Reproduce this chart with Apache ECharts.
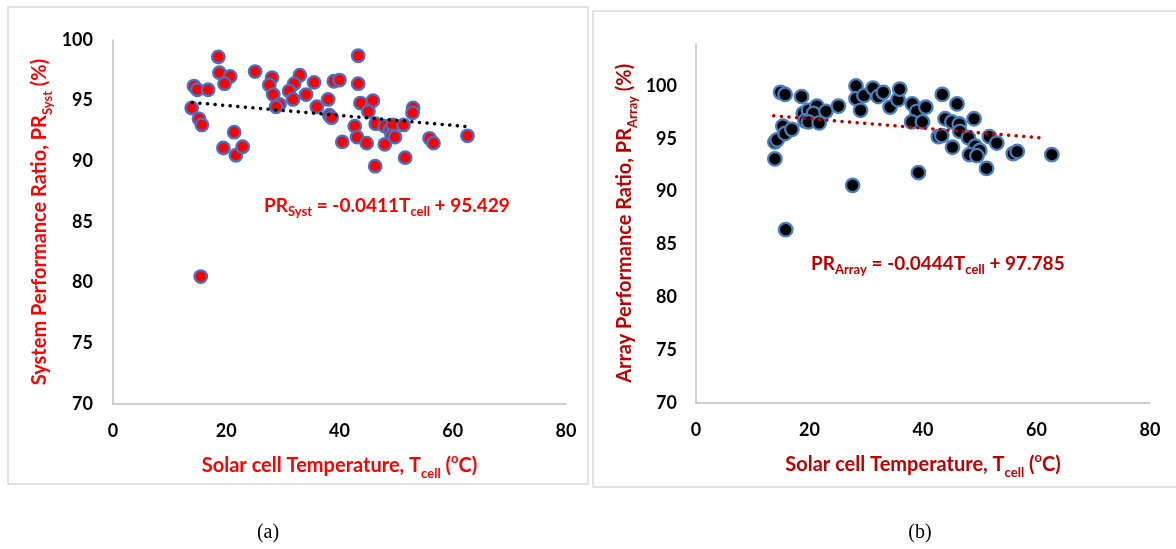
<!DOCTYPE html>
<html>
<head>
<meta charset="utf-8">
<script src="https://cdn.jsdelivr.net/npm/echarts@6/dist/echarts.min.js"></script>
<style>
html, body { margin: 0; padding: 0; background: #fff; }
#main { width: 1176px; height: 549px; }
</style>
</head>
<body>
<div id="main"></div>
<script>
var myChart = echarts.init(document.getElementById('main'));

// (a) system performance ratio vs cell temperature
var sysTemp = [18.6, 43.3, 18.8, 20.7, 19.7, 14.3, 14.9, 16.8, 25.1, 28.1,
    27.6, 28.3, 29.4, 28.8, 33.0, 32.0, 31.1, 31.8, 34.1, 35.5,
    36.0, 38.0, 38.2, 38.6, 39.0, 40.0, 43.3, 43.7, 45.9, 45.1,
    40.5, 42.7, 43.1, 44.8, 46.3, 46.4, 48.0, 48.9, 49.4, 51.3,
    49.2, 49.8, 48.0, 51.6, 53.0, 52.9, 55.9, 56.6, 62.6, 13.9,
    15.2, 15.7, 21.4, 19.5, 21.7, 22.9, 15.5];
var sysPR = [98.6, 98.7, 97.3, 97.0, 96.4, 96.2, 95.9, 95.9, 97.4, 96.9,
    96.3, 95.5, 94.7, 94.5, 97.1, 96.4, 95.8, 95.1, 95.5, 96.5,
    94.5, 95.1, 93.8, 93.6, 96.6, 96.7, 96.4, 94.8, 95.0, 94.1,
    91.6, 92.9, 92.0, 91.5, 89.6, 93.1, 92.9, 92.6, 93.0, 93.0,
    92.1, 92.0, 91.4, 90.3, 94.4, 94.0, 91.9, 91.5, 92.1, 94.4,
    93.5, 93.0, 92.4, 91.1, 90.5, 91.2, 80.5];
var sysTrendT = [14.0, 62.8];
var sysTrendPR = [94.85, 92.85];

// (b) array performance ratio vs cell temperature
var arrTemp = [14.9, 15.7, 18.6, 28.2, 28.2, 29.6, 29.0, 31.2, 32.1, 33.0,
    34.2, 35.6, 35.9, 38.1, 38.9, 40.5, 38.0, 39.9, 43.4, 46.0,
    43.9, 45.1, 46.4, 46.5, 49.0, 42.7, 43.3, 45.2, 48.0, 49.2,
    50.0, 48.2, 49.5, 51.2, 51.7, 53.0, 55.9, 56.6, 62.7, 39.2,
    27.6, 13.9, 14.3, 13.9, 15.3, 15.7, 16.9, 18.9, 19.8, 21.3,
    20.7, 22.9, 19.2, 19.8, 21.7, 25.1, 15.8];
var arrPR = [99.4, 99.2, 99.0, 100.0, 98.8, 99.1, 97.7, 99.8, 99.0, 99.4,
    98.0, 98.7, 99.7, 98.3, 97.6, 98.0, 96.6, 96.6, 99.2, 98.3,
    96.9, 96.6, 96.4, 95.7, 96.9, 95.2, 95.3, 94.2, 95.1, 94.3,
    93.9, 93.5, 93.4, 92.2, 95.2, 94.6, 93.6, 93.8, 93.5, 91.8,
    90.6, 94.7, 94.9, 93.1, 96.2, 95.5, 95.9, 97.4, 97.7, 98.1,
    97.4, 97.6, 96.7, 96.6, 96.5, 98.1, 86.4];
var arrTrendT = [13.7, 61.4];
var arrTrendPR = [97.18, 95.06];

var xTicks = {min: 0, max: 80, interval: 20};

function zip(a, b) {
    var res = [];
    for (var i = 0; i < a.length; i++) {
        res.push([a[i], b[i]]);
    }
    return res;
}

var font = 'Lato';

// rich styles for axis names (echarts style keys)
function richName(color) {
    return {
        t: {fontFamily: font, fontWeight: 'bold', fontSize: 20, color: color, lineHeight: 28, verticalAlign: 'middle'},
        s: {fontFamily: font, fontWeight: 'bold', fontSize: 13, color: color, lineHeight: 15, verticalAlign: 'bottom'},
        p: {fontFamily: font, fontWeight: 'bold', fontSize: 13, color: color, lineHeight: 18, verticalAlign: 'top'}
    };
}

// rich styles for graphic texts (zrender style keys)
function richText(color) {
    return {
        t: {fontFamily: font, fontWeight: 'bold', fontSize: 19, fill: color, lineHeight: 26, verticalAlign: 'middle'},
        s: {fontFamily: font, fontWeight: 'bold', fontSize: 13, fill: color, lineHeight: 14, verticalAlign: 'bottom'}
    };
}

var tickLabel = {fontFamily: font, fontWeight: 'bold', fontSize: 18, color: '#000'};
var axisLine = {show: true, lineStyle: {color: '#bfbfbf', width: 1.5}};

function xAxisOf(idx, color) {
    return {
        gridIndex: idx,
        type: 'value',
        min: xTicks.min,
        max: xTicks.max,
        interval: xTicks.interval,
        axisLine: axisLine,
        axisTick: {show: false},
        splitLine: {show: false},
        axisLabel: Object.assign({margin: 18}, tickLabel),
        name: '{t|Solar cell Temperature, T}{s|cell}{t| (}{p|o}{t|C)}',
        nameLocation: 'middle',
        nameGap: 48,
        nameTextStyle: {rich: richName(color)}
    };
}

option = {
    backgroundColor: '#fff',
    animation: false,
    grid: [
        {left: 113, top: 40, width: 453, height: 364},
        {left: 696, top: 43.7, width: 454, height: 359.3}
    ],
    xAxis: [xAxisOf(0, '#ff0000'), xAxisOf(1, '#c00000')],
    yAxis: [
        {
            gridIndex: 0,
            type: 'value',
            min: 70,
            max: 100,
            interval: 5,
            axisLine: axisLine,
            axisTick: {show: false},
            splitLine: {show: false},
            axisLabel: Object.assign({margin: 20}, tickLabel),
            name: '{t|System Performance Ratio, PR}{s|Syst}{t| (%)}',
            nameLocation: 'middle',
            nameRotate: 90,
            nameGap: 59,
            nameTextStyle: {rich: richName('#ff0000')}
        },
        {
            gridIndex: 1,
            type: 'value',
            min: 70,
            max: 104,
            interval: 5,
            axisLine: axisLine,
            axisTick: {show: false},
            splitLine: {show: false},
            axisLabel: Object.assign({margin: 19, showMaxLabel: false}, tickLabel),
            name: '{t|Array Performance Ratio, PR}{s|Array}{t| (%)}',
            nameLocation: 'middle',
            nameRotate: 90,
            nameGap: 57,
            nameTextStyle: {rich: richName('#c00000')}
        }
    ],
    graphic: [
        {type: 'rect', shape: {x: 8, y: 7, width: 580, height: 477}, style: {fill: 'none', stroke: '#d9d9d9', lineWidth: 1.5}, silent: true},
        {type: 'rect', shape: {x: 593, y: 11, width: 600, height: 476}, style: {fill: 'none', stroke: '#d9d9d9', lineWidth: 1.5}, silent: true},
        {
            type: 'text', left: 264, top: 196,
            style: {text: '{t|PR}{s|Syst}{t| = -0.0411T}{s|cell}{t| + 95.429}', rich: richText('#ff0000')}
        },
        {
            type: 'text', left: 811, top: 254,
            style: {text: '{t|PR}{s|Array}{t| = -0.0444T}{s|cell}{t| + 97.785}', rich: richText('#c00000')}
        },
        {
            type: 'text', x: 268, y: 533,
            style: {text: '(a)', font: '20px "Liberation Serif"', fill: '#000', align: 'center', verticalAlign: 'middle'}
        },
        {
            type: 'text', x: 920, y: 533,
            style: {text: '(b)', font: '20px "Liberation Serif"', fill: '#000', align: 'center', verticalAlign: 'middle'}
        }
    ],
    series: [
        {
            type: 'scatter',
            xAxisIndex: 0,
            yAxisIndex: 0,
            data: zip(sysTemp, sysPR),
            symbolSize: 12.5,
            itemStyle: {color: '#ff0000', borderColor: '#4472c4', borderWidth: 2.3, opacity: 1}
        },
        {
            type: 'line',
            xAxisIndex: 0,
            yAxisIndex: 0,
            data: zip(sysTrendT, sysTrendPR),
            symbol: 'none',
            silent: true,
            z: 5,
            lineStyle: {color: '#000', width: 3.5, type: [0.1, 7.5], cap: 'round'}
        },
        {
            type: 'scatter',
            xAxisIndex: 1,
            yAxisIndex: 1,
            data: zip(arrTemp, arrPR),
            symbolSize: 13.5,
            itemStyle: {color: '#000', borderColor: '#4a7ebb', borderWidth: 2.3, opacity: 1}
        },
        {
            type: 'line',
            xAxisIndex: 1,
            yAxisIndex: 1,
            data: zip(arrTrendT, arrTrendPR),
            symbol: 'none',
            silent: true,
            z: 5,
            lineStyle: {color: '#c00000', width: 3.5, type: [0.1, 7.5], cap: 'round'}
        }
    ]
};

myChart.setOption(option);
</script>
</body>
</html>
